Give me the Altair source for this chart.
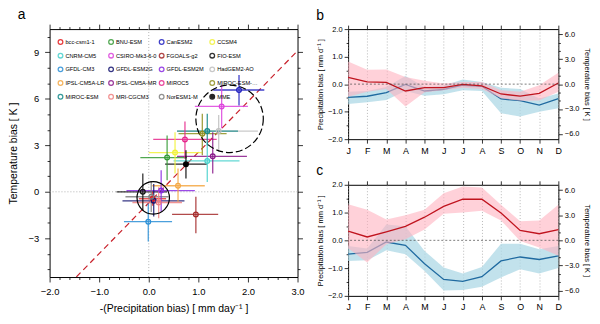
import altair as alt
import pandas as pd

FONT = "Liberation Sans"

# ---------------- panel a data ----------------
models = ["bcc-csm1-1", "BNU-ESM", "CanESM2", "CCSM4",
          "CNRM-CM5", "CSIRO-Mk3-6-0", "FGOALS-g2", "FIO-ESM",
          "GFDL-CM3", "GFDL-ESM2G", "GFDL-ESM2M", "HadGEM2-AO",
          "IPSL-CM5A-LR", "IPSL-CM5A-MR", "MIROC5", "MIROC-ESM-CHEM",
          "MIROC-ESM", "MRI-CGCM3", "NorESM1-M", "MME"]
colors = ["#e41a1c", "#339933", "#1f1fbf", "#f2f23a",
          "#48d1cc", "#dd44dd", "#a52a2a", "#111111",
          "#2b8fd6", "#141470", "#8a2be2", "#bfbfbf",
          "#f4a742", "#8b1a8b", "#e6288c", "#8f8f1f",
          "#138a8a", "#f08080", "#7f7f7f", "#000000"]
fills = ["transparent"] * 19 + ["#000000"]

neg_pr =    [0.08, 0.37, 1.82, 0.53, 1.18, 1.47, 0.95, -0.12, -0.01, 0.10, 0.25, 1.41, 0.59, 1.29, 0.73, 1.08, 1.18, 0.20, 0.05, 0.75]
neg_pr_lo = [-0.20, -0.17, 1.30, 0.00, 0.50, 0.93, 0.47, -0.65, -0.50, -0.53, -0.45, 0.57, 0.07, 0.57, 0.09, 0.60, 0.57, -0.33, -0.47, 0.33]
neg_pr_hi = [0.35, 0.77, 2.33, 1.07, 1.83, 2.00, 1.40, 0.37, 0.47, 0.72, 0.93, 2.20, 1.13, 1.98, 1.37, 1.57, 1.80, 0.67, 0.40, 1.17]
temp =      [-0.45, 2.21, 6.57, 2.53, 1.99, 5.51, -1.46, 0.00, -1.93, -0.58, 0.08, 3.92, 0.39, 2.29, 3.38, 3.75, 3.92, -0.69, -0.32, 1.78]
temp_lo =   [-0.90, 0.75, 5.57, 1.18, 0.64, 4.10, -2.68, -1.20, -3.21, -1.60, -1.28, 2.57, -0.64, 1.18, 2.14, 2.36, 3.00, -1.70, -1.30, 0.86]
temp_hi =   [0.00, 3.64, 7.54, 3.85, 3.20, 6.90, -0.32, 1.18, -0.75, 0.50, 1.39, 4.95, 1.50, 3.85, 4.54, 5.03, 5.03, 0.30, 0.70, 2.68]

# circles highlighting clusters (centre in data units)
solid_cx, solid_cy = [0.09], [-0.39]
dash_cx, dash_cy = [1.63], [4.71]
# red dashed reference line end points
diag_x = [-1.6, 3.0]
diag_y = [-5.95, 9.09]

# ---------------- panels b / c data ----------------
months = [1, 2, 3, 4, 5, 6, 7, 8, 9, 10, 11, 12]
month_labels = ["J", "F", "M", "A", "M", "J", "J", "A", "S", "O", "N", "D"]

b_pr =    [-0.48, -0.44, -0.31, -0.01, -0.25, -0.19, -0.04, -0.08, -0.54, -0.60, -0.76, -0.53]
b_pr_lo = [-0.72, -0.66, -0.58, -0.25, -0.42, -0.37, -0.22, -0.25, -1.06, -1.18, -1.00, -0.88]
b_pr_hi = [-0.28, -0.25, -0.10, 0.30, -0.10, -0.05, 0.17, 0.08, -0.13, -0.18, -0.52, -0.34]
b_t =     [0.83, 0.26, 0.20, -0.83, -0.43, -0.43, -0.03, -0.20, -1.19, -1.45, -1.12, 0.13]
b_t_lo =  [-1.52, -0.92, -0.59, -2.70, -0.99, -0.73, -0.43, -0.59, -1.72, -2.01, -1.98, -0.92]
b_t_hi =  [2.74, 1.75, 1.78, 0.86, 0.40, 0.07, 0.26, 0.26, -0.73, -0.92, -0.13, 1.39]

c_pr =    [-0.50, -0.43, -0.06, -0.18, -0.84, -1.41, -1.48, -1.31, -0.74, -0.60, -0.69, -0.56]
c_pr_lo = [-0.74, -0.72, -0.36, -0.50, -1.10, -1.81, -1.79, -1.67, -1.34, -1.04, -1.19, -1.00]
c_pr_hi = [-0.20, -0.29, 0.57, 0.51, -0.38, -0.98, -1.19, -0.96, -0.12, -0.12, -0.32, -0.20]
c_t =     [1.09, 0.40, 1.02, 1.68, 2.77, 4.06, 4.92, 4.92, 3.27, 1.19, 0.79, 1.29]
c_t_lo =  [-0.96, -2.64, -0.46, 0.13, 1.29, 3.17, 3.33, 3.53, 2.38, -0.07, -0.86, -1.85]
c_t_hi =  [4.32, 3.66, 2.48, 3.00, 3.66, 5.64, 6.44, 6.34, 4.26, 2.28, 2.38, 4.26]

zero_df = pd.DataFrame({"v": [0]})

# ---------------- panel a ----------------
df_a = pd.DataFrame({"model": models, "x": neg_pr, "y": temp,
                     "xlo": neg_pr_lo, "xhi": neg_pr_hi,
                     "ylo": temp_lo, "yhi": temp_hi})

xs_a = alt.Scale(domain=[-2, 3], nice=False, zero=False)
ys_a = alt.Scale(domain=[-5.5, 10.5], nice=False, zero=False)
xa_ticks = [round(-2 + 0.2 * i, 1) for i in range(26)]
ya_ticks = list(range(-5, 11))
maj_x = "abs(datum.value - round(datum.value)) < 0.01"
maj_y = "datum.value % 3 === 0"

ax_a_bottom = alt.Axis(orient="bottom", values=xa_ticks, title="-(Precipitation bias) [ mm day⁻¹ ]",
                       labelExpr=f"{maj_x} ? format(datum.value, '.1f') : ''",
                       tickSize={"condition": {"test": maj_x, "value": 5}, "value": 2.5},
                       labelFontSize=9.5, titleFontSize=10.5, labelPadding=5, titlePadding=7,
                       labelOverlap=False, labelFlush=False, grid=False, domain=False)
ax_a_left = alt.Axis(orient="left", values=ya_ticks, title="Temperature bias [ K ]",
                     labelExpr=f"{maj_y} ? format(datum.value, 'd') : ''",
                     tickSize={"condition": {"test": maj_y, "value": 5}, "value": 2.5},
                     labelFontSize=9.5, titleFontSize=10.5, labelPadding=6, titlePadding=10,
                     labelOverlap=False, labelFlush=False, grid=False, domain=False)
ax_a_top = alt.Axis(orient="top", values=xa_ticks, labels=False, title=None,
                    tickSize={"condition": {"test": maj_x, "value": 5}, "value": 2.5},
                    grid=False, domain=False)
ax_a_right = alt.Axis(orient="right", values=ya_ticks, labels=False, title=None,
                      tickSize={"condition": {"test": maj_y, "value": 5}, "value": 2.5},
                      grid=False, domain=False)


def xa(field):
    return alt.X(field, type="quantitative", scale=xs_a, axis=ax_a_bottom)


def ya(field):
    return alt.Y(field, type="quantitative", scale=ys_a, axis=ax_a_left)


color_scale = alt.Scale(domain=models, range=colors)
fill_scale = alt.Scale(domain=models, range=fills)
leg = alt.Legend(orient="none", legendX=8, legendY=10, columns=4, direction="horizontal", title=None,
                 labelFontSize=5.7, labelFont=FONT, symbolSize=22, symbolStrokeWidth=1.3,
                 symbolType="circle", rowPadding=3.8, columnPadding=0, labelLimit=42,
                 gridAlign="all", labelOffset=2, padding=0, labelColor="black")

vzero = alt.Chart(zero_df).mark_rule(color="#aaaaaa", strokeDash=[1, 2], strokeWidth=0.9).encode(x=xa("v"))
hzero = alt.Chart(zero_df).mark_rule(color="#aaaaaa", strokeDash=[1, 2], strokeWidth=0.9).encode(y=ya("v"))
diag = alt.Chart(pd.DataFrame({"x": diag_x, "y": diag_y})).mark_line(
    clip=True, color="#c8202a", strokeDash=[6, 4], strokeWidth=1.2).encode(x=xa("x"), y=ya("y"))

base_a = alt.Chart(df_a)
hbars = base_a.mark_rule(strokeWidth=1.3, opacity=0.85).encode(
    x=xa("xlo"), x2="xhi", y=ya("y"),
    color=alt.Color("model:N", scale=color_scale, legend=leg))
vbars = base_a.mark_rule(strokeWidth=1.3, opacity=0.85).encode(
    x=xa("x"), y=ya("ylo"), y2="yhi",
    color=alt.Color("model:N", scale=color_scale, legend=leg))
pts = base_a.mark_point(shape="circle", size=22, strokeWidth=1.3, filled=False, opacity=1).encode(
    x=xa("x"), y=ya("y"),
    color=alt.Color("model:N", scale=color_scale, legend=leg),
    fill=alt.Fill("model:N", scale=fill_scale, legend=leg))

solid_c = alt.Chart(pd.DataFrame({"x": solid_cx, "y": solid_cy})).mark_point(
    shape="circle", size=1069, color="black", strokeWidth=1.2, filled=False, opacity=1).encode(x=xa("x"), y=ya("y"))
dash_c = alt.Chart(pd.DataFrame({"x": dash_cx, "y": dash_cy})).mark_point(
    shape="circle", size=4624, color="black", strokeWidth=1.2, filled=False, opacity=1,
    strokeDash=[7, 3]).encode(x=xa("x"), y=ya("y"))

inner_a = alt.layer(vzero, hzero, diag, hbars, vbars, solid_c, dash_c, pts)
mirror_a = alt.Chart(zero_df).mark_point(opacity=0).encode(
    x=alt.X("v:Q", scale=xs_a, axis=ax_a_top),
    y=alt.Y("v:Q", scale=ys_a, axis=ax_a_right))

panel_a = alt.layer(inner_a, mirror_a).resolve_axis(x="independent", y="independent").properties(
    width=250, height=250,
    title=alt.TitleParams("a", anchor="start", frame="group", dx=-32, fontSize=14,
                          fontWeight="normal", font=FONT, offset=2, color="black"))

# ---------------- panels b / c ----------------
label_arr = "[" + ",".join(f"'{m}'" for m in month_labels) + "]"
xs_m = alt.Scale(domain=[1, 12], nice=False, zero=False)
ys_l = alt.Scale(domain=[-2, 2], nice=False, zero=False)
ys_r = alt.Scale(domain=[-6.65, 6.65], nice=False, zero=False)
yl_ticks = [-2, -1.5, -1, -0.5, 0, 0.5, 1, 1.5, 2]
yr_ticks = list(range(-6, 7))

ax_m_bottom = alt.Axis(orient="bottom", values=months, labelExpr=f"{label_arr}[datum.value - 1]",
                       tickSize=4, grid=True, gridDash=[1, 2], gridColor="#999999", gridWidth=0.7,
                       title=None, labelFontSize=9, labelPadding=3, domain=False, labelFlush=False,
                       labelOverlap=False)
ax_m_top = alt.Axis(orient="top", values=months, labels=False, tickSize=4, grid=False, title=None, domain=False)
ax_l = alt.Axis(orient="left", values=yl_ticks, title="Precipitation bias [ mm d⁻¹ ]",
                labelExpr=f"{maj_x} ? format(datum.value, '.1f') : ''",
                tickSize={"condition": {"test": maj_x, "value": 4}, "value": 2},
                labelFontSize=7.5, titleFontSize=7.5, labelPadding=2, titlePadding=3,
                labelOverlap=False, labelFlush=False, grid=False, domain=False)
ax_r = alt.Axis(orient="right", values=yr_ticks, title="Temperature bias [ K ]",
                labelExpr=f"{maj_y} ? format(datum.value, '.1f') : ''",
                tickSize={"condition": {"test": maj_y, "value": 4}, "value": 2},
                labelFontSize=7.5, titleFontSize=7.5, labelPadding=2, titlePadding=4,
                labelOverlap=False, labelFlush=False, grid=False, domain=False)


def month_panel(pr, pr_lo, pr_hi, t, t_lo, t_hi, letter, h):
    df = pd.DataFrame({"month": months, "pr": pr, "pr_lo": pr_lo, "pr_hi": pr_hi,
                       "t": t, "t_lo": t_lo, "t_hi": t_hi})
    base = alt.Chart(df)
    xb = alt.X("month:Q", scale=xs_m, axis=ax_m_bottom)
    xt = alt.X("month:Q", scale=xs_m, axis=ax_m_top)
    blue_band = base.mark_area(color="#add8e6", opacity=0.75).encode(
        x=xb, y=alt.Y("pr_lo:Q", scale=ys_l, axis=ax_l), y2="pr_hi:Q")
    blue_line = base.mark_line(color="#1f6aa0", strokeWidth=1.3).encode(
        x=xb, y=alt.Y("pr:Q", scale=ys_l, axis=ax_l))
    left = alt.layer(blue_band, blue_line)
    red_band = base.mark_area(color="#ffb3bf", opacity=0.6).encode(
        x=xt, y=alt.Y("t_lo:Q", scale=ys_r, axis=ax_r), y2="t_hi:Q")
    red_line = base.mark_line(color="#c0141e", strokeWidth=1.3).encode(
        x=xt, y=alt.Y("t:Q", scale=ys_r, axis=ax_r))
    right = alt.layer(red_band, red_line)
    zero = alt.Chart(zero_df).mark_rule(color="#444444", strokeDash=[2, 2], strokeWidth=0.7).encode(
        y=alt.Y("v:Q", scale=ys_l, axis=None))
    return alt.layer(left, right, zero).resolve_scale(y="independent").resolve_axis(
        x="independent", y="independent").properties(
        width=212, height=h,
        title=alt.TitleParams(letter, anchor="start", frame="group", dx=-32, fontSize=14,
                              fontWeight="normal", font=FONT, offset=2, color="black"))


panel_b = month_panel(b_pr, b_pr_lo, b_pr_hi, b_t, b_t_lo, b_t_hi, "b", 111)
panel_c = month_panel(c_pr, c_pr_lo, c_pr_hi, c_t, c_t_lo, c_t_hi, "c", 112)

right_col = alt.vconcat(panel_b, panel_c, spacing=46, bounds="flush")

chart = alt.hconcat(panel_a, right_col, spacing=51, bounds="flush").resolve_legend(
    color="independent", fill="independent").properties(
    padding={"left": 7, "top": 6, "right": 8, "bottom": 4}
).configure(font=FONT).configure_view(stroke="black", strokeWidth=1).configure_axis(
    tickColor="black", tickWidth=0.8, labelColor="black", titleColor="black",
    titleFontWeight="normal", labelFont=FONT, titleFont=FONT)

chart.save("out.html", embed_options={"renderer": "svg", "actions": False})
